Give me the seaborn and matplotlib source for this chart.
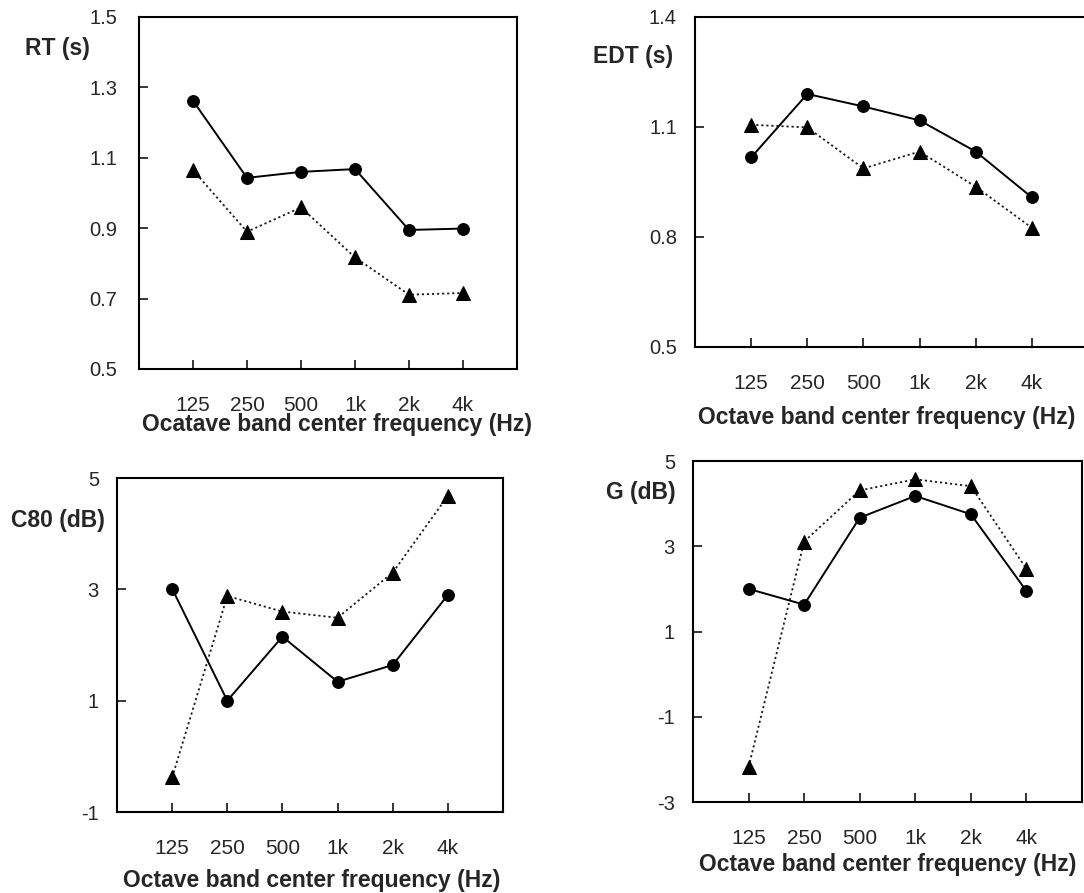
import matplotlib
matplotlib.use("Agg")
import matplotlib.pyplot as plt
import seaborn as sns

# octave bands (x categories)
bands = ["125", "250", "500", "1k", "2k", "4k"]

# circles = solid line, triangles = dotted line
rt_circle = [1.262, 1.043, 1.060, 1.068, 0.895, 0.899]
rt_tri = [1.065, 0.890, 0.959, 0.817, 0.711, 0.716]

edt_circle = [1.017, 1.190, 1.156, 1.118, 1.033, 0.908]
edt_tri = [1.106, 1.099, 0.987, 1.033, 0.937, 0.825]

c80_circle = [3.01, 1.00, 2.15, 1.34, 1.64, 2.90]
c80_tri = [-0.38, 2.88, 2.60, 2.49, 3.30, 4.68]

g_circle = [2.00, 1.63, 3.67, 4.18, 3.75, 1.95]
g_tri = [-2.18, 3.11, 4.31, 4.57, 4.41, 2.47]

rt_ticks = [0.5, 0.7, 0.9, 1.1, 1.3, 1.5]
edt_ticks = [0.5, 0.8, 1.1, 1.4]
c80_ticks = [-1, 1, 3, 5]
g_ticks = [-3, -1, 1, 3, 5]

sns.set_style("white")
plt.rcParams["font.family"] = ["Liberation Sans", "DejaVu Sans"]

W, H = 1084, 893
fig = plt.figure(figsize=(W / 100, H / 100), dpi=100)


def px_axes(left, top, right, bottom):
    # rectangle given in pixels from top-left corner
    return fig.add_axes([left / W, 1 - bottom / H, (right - left) / W, (bottom - top) / H])


def panel(ax, circ, tri, ticks, ypad):
    sns.lineplot(x=bands, y=circ, ax=ax, color="black", linewidth=1.4,
                 marker="o", markersize=8.5, markeredgecolor="black", sort=False)
    sns.lineplot(x=bands, y=tri, ax=ax, color="0.1", linewidth=1.3,
                 linestyle=(0, (1.2, 1.6)), marker="^", markersize=10,
                 markeredgecolor="black", markerfacecolor="black", sort=False)
    ax.set_xlim(-1, 6)
    ax.set_ylim(ticks[0], ticks[-1])
    ax.set_yticks(ticks)
    ax.set_yticklabels([f"{t:g}" for t in ticks])
    ax.set_xticks(range(len(bands)))
    ax.set_xticklabels(bands)
    ax.set_xlabel("")
    ax.set_ylabel("")
    for s in ax.spines.values():
        s.set_visible(True)
        s.set_color("black")
        s.set_linewidth(1.5)
    ax.tick_params(axis="x", direction="in", length=6.5, width=1.3, pad=19.5,
                   labelsize=15, bottom=True)
    ax.tick_params(axis="y", direction="in", length=6.5, width=1.3, pad=ypad,
                   labelsize=14.5, left=True)


ax_rt = px_axes(139, 17, 517, 369)
panel(ax_rt, rt_circle, rt_tri, rt_ticks, 15.5)

ax_edt = px_axes(695, 17, 1088, 347)
panel(ax_edt, edt_circle, edt_tri, edt_ticks, 13)

ax_c80 = px_axes(117, 478, 503, 812)
panel(ax_c80, c80_circle, c80_tri, c80_ticks, 13)

ax_g = px_axes(693, 461, 1082, 802)
panel(ax_g, g_circle, g_tri, g_ticks, 13)

# axis titles (placed like the original: ylabel at top-left, xlabel below)
def ftext(x, y, s):
    fig.text(x / W, 1 - y / H, s, ha="center", va="center",
             fontsize=16.5, fontweight="bold")

ftext(57, 49, "RT (s)")
ftext(633, 57, "EDT (s)")
ftext(58, 520, "C80 (dB)")
ftext(641, 493, "G (dB)")

ftext(337, 425, "Ocatave band center frequency (Hz)")
ftext(887, 417, "Octave band center frequency (Hz)")
ftext(312, 880, "Octave band center frequency (Hz)")
ftext(888, 864, "Octave band center frequency (Hz)")

fig.savefig("out.png", dpi=100, facecolor="white")
